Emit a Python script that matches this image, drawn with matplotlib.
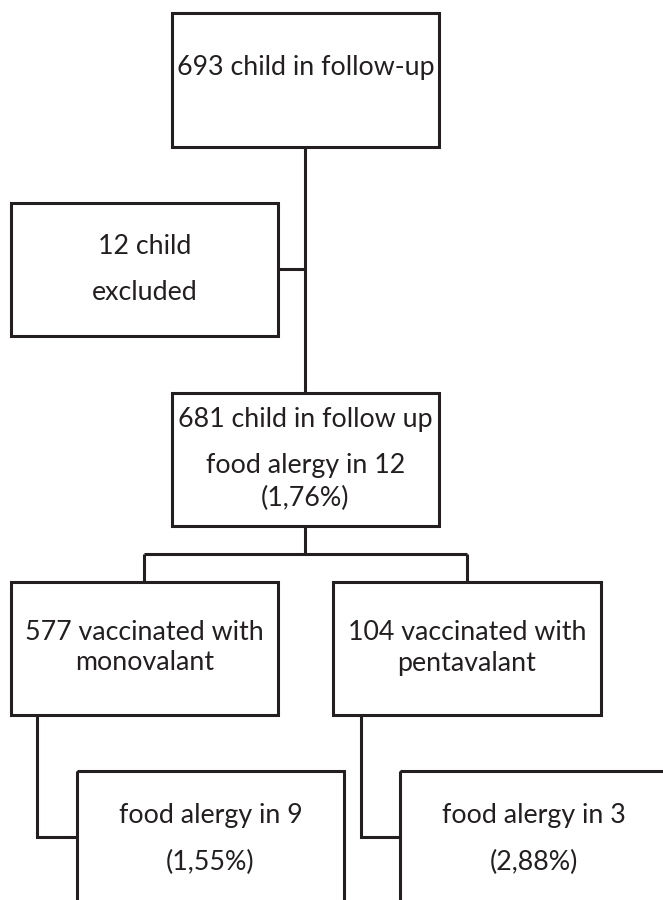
import matplotlib
matplotlib.use("Agg")
import matplotlib.pyplot as plt
from matplotlib.patches import Rectangle

plt.rcParams['font.family'] = ['Lato', 'DejaVu Sans']

# Text content of the flowchart boxes
box_texts = [
    ["693 child in follow-up"],
    ["12 child", "excluded"],
    ["681 child in follow up", "food alergy in 12", "(1,76%)"],
    ["577 vaccinated with", "monovalant"],
    ["104 vaccinated with", "pentavalant"],
    ["food alergy in 9", "(1,55%)"],
    ["food alergy in 3", "(2,88%)"],
]

# Layout (pixel coordinates, y downward): x0, y0, x1, y1
boxes = [
    (172, 13, 439, 147),
    (11, 203, 278, 336),
    (172, 393, 439, 526),
    (11, 582, 278, 715),
    (333, 582, 601, 715),
    (77, 771, 344, 915),
    (400, 771, 667, 915),
]
text_y = [
    [68],
    [247, 292],
    [419, 465, 498],
    [632, 663],
    [632, 663],
    [815, 862],
    [815, 862],
]

lines = [
    [(305, 147), (305, 393)],
    [(278, 269), (305, 269)],
    [(305, 526), (305, 554)],
    [(144, 554), (467, 554)],
    [(144, 554), (144, 582)],
    [(467, 554), (467, 582)],
    [(37, 715), (37, 837), (77, 837)],
    [(361, 715), (361, 837), (400, 837)],
]

W, H = 663, 900
fig = plt.figure(figsize=(W / 100, H / 100), dpi=100)
ax = fig.add_axes([0, 0, 1, 1])
ax.set_xlim(0, W)
ax.set_ylim(H, 0)
ax.axis('off')

col = '#231f20'
lw = 2.2
for (x0, y0, x1, y1), texts, ys in zip(boxes, box_texts, text_y):
    ax.add_patch(Rectangle((x0, y0), x1 - x0, y1 - y0, fill=False,
                           edgecolor=col, linewidth=lw, joinstyle='miter'))
    cx = (x0 + x1) / 2
    for t, y in zip(texts, ys):
        ax.text(cx, y, t, ha='center', va='center', fontsize=19.3, color=col)

for pts in lines:
    xs = [p[0] for p in pts]
    ys = [p[1] for p in pts]
    ax.plot(xs, ys, color=col, linewidth=lw, solid_joinstyle='miter',
            solid_capstyle='butt')

fig.savefig('out.png', dpi=100)
